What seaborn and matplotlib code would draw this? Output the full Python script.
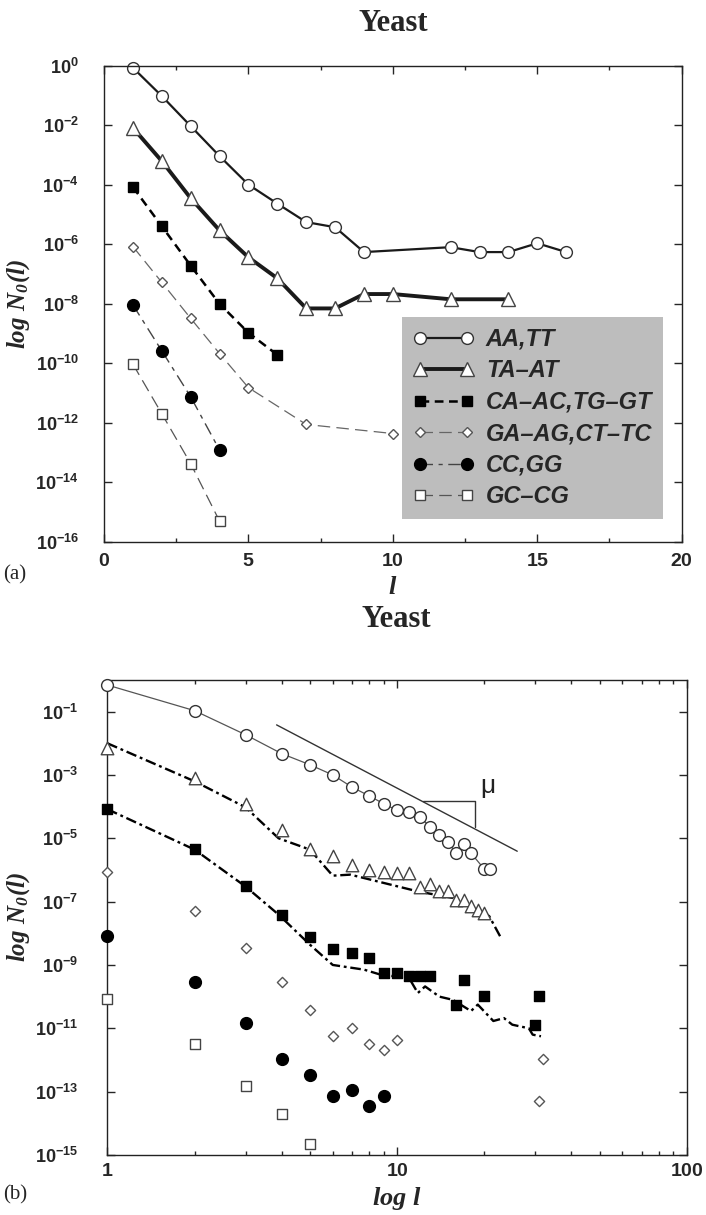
import numpy as np
import pandas as pd
import seaborn as sns
import matplotlib.pyplot as plt
from matplotlib.ticker import FuncFormatter, MultipleLocator, NullLocator, NullFormatter, FixedLocator
from matplotlib.font_manager import FontProperties

# ---------------------------------------------------------------
# Panel (a): log N0(l) against l
# ---------------------------------------------------------------
l_aa = [1, 2, 3, 4, 5, 6, 7, 8, 9, 12, 13, 14, 15, 16]
n_aa = [8.5e-1, 9.5e-2, 9.3e-3, 9.1e-4, 1.0e-4, 2.3e-5, 5.5e-6, 3.7e-6,
        5.4e-7, 7.9e-7, 5.4e-7, 5.4e-7, 1.07e-6, 5.4e-7]

l_ta = [1, 2, 3, 4, 5, 6, 7, 8, 9, 10, 12, 14]
n_ta = [8.1e-3, 6.2e-4, 3.5e-5, 2.9e-6, 3.6e-7, 7.1e-8, 6.9e-9, 6.9e-9,
        2.1e-8, 2.1e-8, 1.4e-8, 1.4e-8]

l_ca = [1, 2, 3, 4, 5, 6]
n_ca = [8.3e-5, 4.0e-6, 1.9e-7, 9.8e-9, 1.05e-9, 1.9e-10]

l_ga = [1, 2, 3, 4, 5, 7, 10]
n_ga = [8.3e-7, 5.2e-8, 3.2e-9, 2.1e-10, 1.5e-11, 8.7e-13, 4.3e-13]

l_cc = [1, 2, 3, 4]
n_cc = [9.1e-9, 2.6e-10, 7.4e-12, 1.2e-13]

l_gc = [1, 2, 3, 4]
n_gc = [9.3e-11, 2.0e-12, 4.2e-14, 4.9e-16]

labels = ['AA,TT', 'TA\u2013AT', 'CA\u2013AC,TG\u2013GT', 'GA\u2013AG,CT\u2013TC', 'CC,GG', 'GC\u2013CG']

# ---------------------------------------------------------------
# Panel (b): log N0(l) against log l
# ---------------------------------------------------------------
lb_aa = [1, 2, 3, 4, 5, 6, 7, 8, 9, 10, 11, 12, 13, 14, 15, 16, 17, 18, 20, 21]
nb_aa = [6.9e-1, 1.07e-1, 1.86e-2, 4.7e-3, 2.1e-3, 1.0e-3, 4.1e-4, 2.2e-4, 1.23e-4, 7.6e-5,
         6.6e-5, 4.7e-5, 2.3e-5, 1.3e-5, 7.6e-6, 3.4e-6, 6.8e-6, 3.4e-6, 1.07e-6, 1.07e-6]

lb_ta = [1, 2, 3, 4, 5, 6, 7, 8, 9, 10, 11, 12, 13, 14, 15, 16, 17, 18, 19, 20]
nb_ta = [6.9e-3, 7.9e-4, 1.2e-4, 1.86e-5, 4.7e-6, 2.7e-6, 1.4e-6, 1.0e-6, 8.5e-7, 7.9e-7,
         7.9e-7, 2.8e-7, 3.5e-7, 2.2e-7, 2.2e-7, 1.15e-7, 1.15e-7, 7.1e-8, 5.5e-8, 4.4e-8]

lb_ca = [1, 2, 3, 4, 5, 6, 7, 8, 9, 10, 11, 12, 13, 16, 17, 20, 30, 31]
nb_ca = [8.3e-5, 4.7e-6, 3.2e-7, 3.7e-8, 7.4e-9, 3.2e-9, 2.3e-9, 1.6e-9, 5.6e-10, 5.6e-10,
         4.4e-10, 4.4e-10, 4.4e-10, 5.6e-11, 3.4e-10, 1.07e-10, 1.26e-11, 1.07e-10]

lb_ga = [1, 2, 3, 4, 5, 6, 7, 8, 9, 10, 31, 32]
nb_ga = [8.9e-7, 5.1e-8, 3.5e-9, 2.9e-10, 3.9e-11, 5.6e-12, 1.0e-11, 3.3e-12, 2.1e-12,
         4.4e-12, 5.2e-14, 1.07e-12]

lb_cc = [1, 2, 3, 4, 5, 6, 7, 8, 9]
nb_cc = [8.5e-9, 3.0e-10, 1.5e-11, 1.1e-12, 3.3e-13, 7.2e-14, 1.1e-13, 3.6e-14, 7.2e-14]

lb_gc = [1, 2, 3, 4, 5]
nb_gc = [8.7e-11, 3.2e-12, 1.55e-13, 1.9e-14, 2.3e-15]

# model curves (dash-dot) for TA-AT and CA-AC
lm_ta = [1, 2, 3, 3.9, 5, 6, 6.9, 11.8, 15.6, 20.8, 22.8]
nm_ta = [1.0e-2, 6.3e-4, 9.5e-5, 1.0e-5, 4.4e-6, 6.6e-7, 7.1e-7, 2.1e-7, 1.3e-7, 3.5e-8, 7.4e-9]

lm_ca = [1, 2, 3, 3.9, 5, 6, 7.7, 8.8, 11, 11.8, 12.5, 14, 15.6, 18, 19, 21.5, 23.4, 25, 28.5, 29.4, 31.4]
nm_ca = [8.3e-5, 4.4e-6, 3.0e-7, 3.9e-8, 4.4e-9, 1.0e-9, 7.1e-10, 4.9e-10, 3.9e-10, 1.3e-10,
         2.1e-10, 1.0e-10, 7.9e-11, 3.5e-11, 5.6e-11, 1.7e-11, 2.1e-11, 1.3e-11, 1.0e-11, 6.3e-12, 5.6e-12]

# power-law guide line with slope triangle
l_guide = [3.84, 26]
n_guide = [3.8e-2, 3.9e-6]
l_tri = [12.3, 18.6, 18.6]
n_tri = [1.55e-4, 1.55e-4, 2.3e-5]
mu_pos = (20.5, 4.4e-4)

yticks_a = [1e0, 1e-2, 1e-4, 1e-6, 1e-8, 1e-10, 1e-12, 1e-14, 1e-16]
yticks_b = [1e-1, 1e-3, 1e-5, 1e-7, 1e-9, 1e-11, 1e-13, 1e-15]
xticks_b = [1, 10, 100]

# ---------------------------------------------------------------
# Style
# ---------------------------------------------------------------
sns.set_style('ticks')
plt.rcParams['font.family'] = ['Liberation Sans', 'DejaVu Sans']
plt.rcParams['mathtext.fontset'] = 'custom'
plt.rcParams['mathtext.rm'] = 'Liberation Sans:bold'
plt.rcParams['mathtext.it'] = 'Liberation Serif:italic:bold'
plt.rcParams['mathtext.sf'] = 'Liberation Serif:italic:bold'
plt.rcParams['mathtext.bf'] = 'Liberation Serif:bold'
plt.rcParams['axes.edgecolor'] = '#222222'
plt.rcParams['axes.linewidth'] = 1.0


def pow_fmt(v, pos):
    return r'$\mathrm{10^{%d}}$' % int(round(np.log10(v)))


def num_fmt(v, pos):
    return r'$\mathrm{%g}$' % v


fig = plt.figure(figsize=(7.06, 12.15), dpi=100)
ax1 = fig.add_axes([0.1473, 0.5542, 0.8183, 0.3918])
ax2 = fig.add_axes([0.1520, 0.0494, 0.8207, 0.3910])

for ax in (ax1, ax2):
    ax.set_yscale('log')
ax2.set_xscale('log')

# ---------------------------------------------------------------
# Panel (a)
# ---------------------------------------------------------------
styles = [
    dict(color='#1a1a1a', linewidth=1.6, linestyle='-', marker='o', markersize=8.5,
         markerfacecolor='white', markeredgecolor='#333333'),
    dict(color='#1a1a1a', linewidth=2.8, linestyle='-', marker='^', markersize=9.5,
         markerfacecolor='white', markeredgecolor='#444444'),
    dict(color='black', linewidth=1.8, linestyle=(0, (3.5, 2.2)), marker='s', markersize=6.5,
         markerfacecolor='black', markeredgecolor='black'),
    dict(color='#666666', linewidth=0.9, linestyle=(0, (10, 5)), marker='D', markersize=5.5,
         markerfacecolor='white', markeredgecolor='#555555'),
    dict(color='#444444', linewidth=1.0, linestyle=(0, (9, 4, 3, 4)), marker='o', markersize=8.5,
         markerfacecolor='black', markeredgecolor='black'),
    dict(color='#555555', linewidth=0.9, linestyle=(0, (10, 5)), marker='s', markersize=7,
         markerfacecolor='white', markeredgecolor='#444444'),
]
series_a = [(l_aa, n_aa), (l_ta, n_ta), (l_ca, n_ca), (l_ga, n_ga), (l_cc, n_cc), (l_gc, n_gc)]

for (xs, ys), st, lab in zip(series_a, styles, labels):
    sns.lineplot(x=xs, y=ys, ax=ax1, estimator=None, errorbar=None, sort=False,
                 markeredgewidth=1.0, label=lab, clip_on=False, **st)

ax1.set_xlim(0, 20)
ax1.set_ylim(1e-16, 1e0)
ax1.xaxis.set_major_locator(MultipleLocator(5))
ax1.xaxis.set_minor_locator(MultipleLocator(2.5))
ax1.xaxis.set_major_formatter(FuncFormatter(num_fmt))
ax1.yaxis.set_major_locator(FixedLocator(yticks_a))
ax1.yaxis.set_minor_locator(NullLocator())
ax1.yaxis.set_major_formatter(FuncFormatter(pow_fmt))
ax1.tick_params(axis='both', which='both', direction='in', top=True, right=True, width=1.0)
ax1.tick_params(axis='both', which='major', length=6)
ax1.tick_params(axis='both', which='minor', length=3)
ax1.tick_params(axis='y', labelsize=13, pad=18)
ax1.tick_params(axis='x', labelsize=14, pad=8)

leg = ax1.legend(loc='lower right', bbox_to_anchor=(0.9675, 0.0475), borderaxespad=0,
                 frameon=True, fancybox=False, facecolor='#bdbdbd', edgecolor='none', framealpha=1,
                 prop=FontProperties(family='Liberation Sans', weight='bold', style='italic', size=17),
                 numpoints=2, handlelength=2.6, labelspacing=0.36, borderpad=0.45,
                 handletextpad=0.5)

ax1.set_ylabel(r'$\mathsf{log\ N_{0}(l)}$', fontsize=18)
ax1.yaxis.set_label_coords(-0.125, 0.5)
ax1.set_xlabel(r'$\mathsf{l}$', fontsize=19)
ax1.xaxis.set_label_coords(0.5, -0.07)

# ---------------------------------------------------------------
# Panel (b)
# ---------------------------------------------------------------
sns.lineplot(x=lb_aa, y=nb_aa, ax=ax2, estimator=None, errorbar=None, sort=False,
             color='#555555', linewidth=0.9)
dashdot = (0, (4.5, 1.6, 1.2, 1.6))
sns.lineplot(x=lm_ta, y=nm_ta, ax=ax2, estimator=None, errorbar=None, sort=False,
             color='black', linewidth=1.7, linestyle=dashdot)
sns.lineplot(x=lm_ca, y=nm_ca, ax=ax2, estimator=None, errorbar=None, sort=False,
             color='black', linewidth=1.7, linestyle=dashdot)
sns.lineplot(x=l_guide, y=n_guide, ax=ax2, estimator=None, errorbar=None, sort=False,
             color='#333333', linewidth=1.0)
sns.lineplot(x=l_tri, y=n_tri, ax=ax2, estimator=None, errorbar=None, sort=False,
             color='#333333', linewidth=1.0)
ax2.text(mu_pos[0], mu_pos[1], '\u03bc', fontsize=19, family='Liberation Sans',
         ha='center', va='center', color='#222222')

series_b = [(lb_aa, nb_aa), (lb_ta, nb_ta), (lb_ca, nb_ca), (lb_ga, nb_ga), (lb_cc, nb_cc), (lb_gc, nb_gc)]
sizes_b = [8.5, 9, 6.5, 5.2, 8.5, 7]
for (xs, ys), st, ms in zip(series_b, styles, sizes_b):
    sns.scatterplot(x=xs, y=ys, ax=ax2, marker=st['marker'], s=ms ** 2,
                    facecolor=st['markerfacecolor'], edgecolor=st['markeredgecolor'],
                    linewidth=1.0, clip_on=False, zorder=3)

ax2.set_xlim(1, 100)
ax2.set_ylim(1e-15, 1e0)
ax2.xaxis.set_major_locator(FixedLocator(xticks_b))
ax2.xaxis.set_minor_locator(FixedLocator([v * k for v in (1, 10) for k in range(2, 10)]))
ax2.xaxis.set_major_formatter(FuncFormatter(num_fmt))
ax2.xaxis.set_minor_formatter(NullFormatter())
ax2.yaxis.set_major_locator(FixedLocator(yticks_b))
ax2.yaxis.set_minor_locator(NullLocator())
ax2.yaxis.set_major_formatter(FuncFormatter(pow_fmt))
ax2.tick_params(axis='both', which='both', direction='in', top=True, right=True, width=1.0)
ax2.tick_params(axis='both', which='major', length=6)
ax2.tick_params(axis='both', which='minor', length=3)
ax2.tick_params(axis='y', labelsize=13, pad=21)
ax2.tick_params(axis='x', labelsize=14, pad=6)

ax2.set_ylabel(r'$\mathsf{log\ N_{0}(l)}$', fontsize=18)
ax2.yaxis.set_label_coords(-0.13, 0.5)
ax2.set_xlabel(r'$\mathsf{log\ l}$', fontsize=19)
ax2.xaxis.set_label_coords(0.5, -0.064)

# titles and panel tags
fig.text(0.557, 1 - 31 / 1215, 'Yeast', ha='center', va='baseline',
         family='Liberation Serif', weight='bold', fontsize=22)
fig.text(0.562, 1 - 627 / 1215, 'Yeast', ha='center', va='baseline',
         family='Liberation Serif', weight='bold', fontsize=22)
fig.text(15 / 706, 1 - 575 / 1215, '(a)', ha='center', va='center',
         family='Liberation Serif', fontsize=15)
fig.text(15 / 706, 1 - 1195 / 1215, '(b)', ha='center', va='center',
         family='Liberation Serif', fontsize=15)

fig.savefig('out.png', dpi=100, facecolor='white')
